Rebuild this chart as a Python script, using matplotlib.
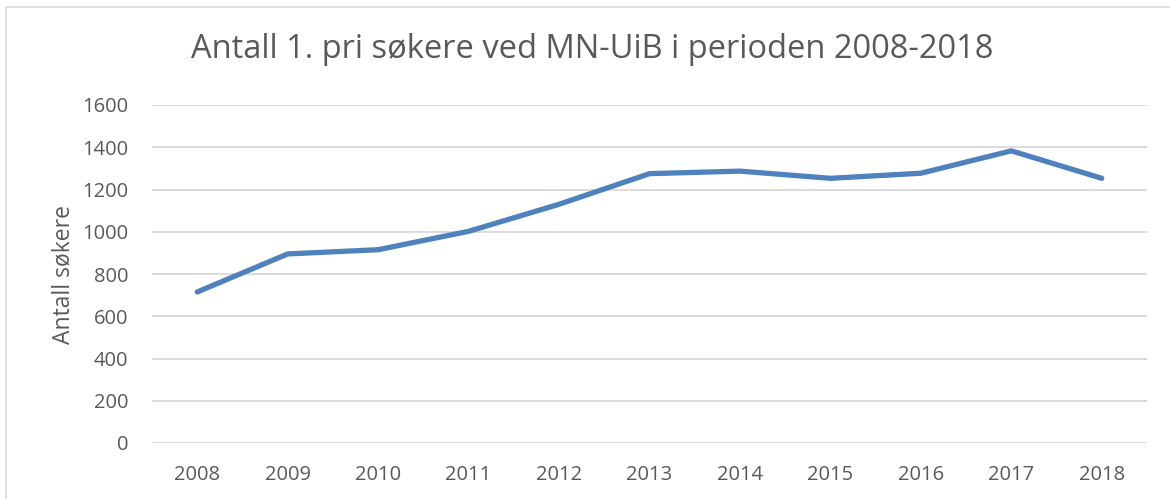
import matplotlib
matplotlib.use("Agg")
import matplotlib.pyplot as plt
from matplotlib.patches import Rectangle

years = ["2008", "2009", "2010", "2011", "2012", "2013", "2014", "2015", "2016", "2017", "2018"]
applicants = [715, 895, 915, 1002, 1130, 1275, 1287, 1253, 1277, 1383, 1253]
yticks = [0, 200, 400, 600, 800, 1000, 1200, 1400, 1600]

plt.rcParams['font.family'] = ['Open Sans', 'DejaVu Sans']

W, H = 1170, 499
fig = plt.figure(figsize=(W / 100, H / 100), dpi=100)
fig.patch.set_facecolor("white")

# outer chart frame
fig.patches.append(Rectangle((6 / W, -0.2), 1.2, 1.2 - 7 / H, transform=fig.transFigure,
                             fill=False, edgecolor="#D9D9D9", linewidth=1.2))

ax = fig.add_axes([152 / W, 1 - 443 / H, (1147 - 152) / W, (443 - 105) / H])
x = list(range(len(years)))
ax.plot(x, applicants, color="#4F81BD", linewidth=3.8, solid_capstyle="round",
        solid_joinstyle="round", zorder=3)

ax.set_xlim(-0.5, len(years) - 0.5)
ax.set_ylim(0, 1600)
ax.set_yticks(yticks)
ax.set_yticklabels([str(v) for v in yticks])
ax.set_xticks(x)
ax.set_xticklabels(years)
ax.grid(axis="y", color="#D9D9D9", linewidth=1.3)
ax.set_axisbelow(True)
for s in ax.spines.values():
    s.set_visible(False)
ax.tick_params(axis="both", length=0, labelsize=14.5, colors="#595959")
ax.tick_params(axis="y", pad=17)
ax.tick_params(axis="x", pad=16)
ax.set_ylabel("Antall søkere", fontsize=16.5, color="#595959", labelpad=5)

fig.text(592 / W, 1 - 50 / H, "Antall 1. pri søkere ved MN-UiB i perioden 2008-2018",
         ha="center", va="center", fontsize=23.5, color="#595959")

fig.savefig("out.png", dpi=100, facecolor="white")
